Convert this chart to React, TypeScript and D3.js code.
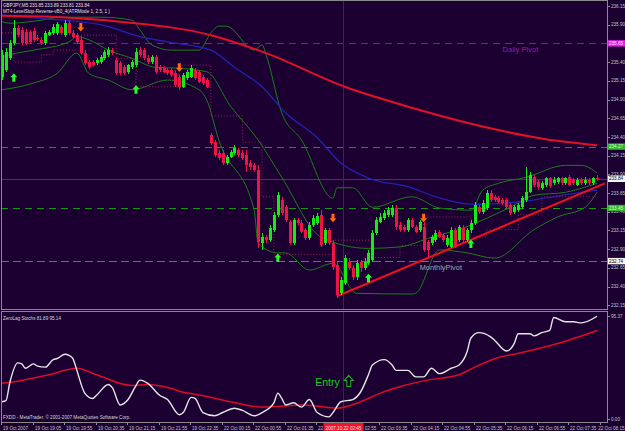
import React from 'react';
import * as d3 from 'd3';

// ---------- DATA ----------
const opens = [
235.20,235.29,235.45,235.66,235.86,235.83,235.80,235.80,235.82,235.72,
235.70,235.66,235.76,235.79,235.79,235.87,235.76,235.92,235.79,235.76,
235.70,235.52,235.40,235.40,235.39,235.40,235.45,235.50,235.56,235.43,
235.39,235.33,235.27,235.33,235.36,235.56,235.56,235.45,235.40,235.47,
235.33,235.32,235.29,235.29,235.25,235.20,235.07,235.19,235.20,235.29,
235.27,235.20,235.16,234.43,234.33,234.18,234.18,234.05,234.13,234.18,
234.22,234.18,234.16,234.05,234.02,233.96,232.98,233.06,233.02,233.16,
233.36,233.56,233.46,233.26,232.98,233.29,233.25,233.16,233.05,233.22,
233.25,233.36,232.98,233.16,232.98,232.69,232.31,232.45,232.73,232.65,
232.53,232.73,232.65,232.71,232.75,233.12,233.26,233.32,233.36,233.36,
233.45,233.22,233.20,233.16,233.29,233.20,233.16,233.20,232.99,232.98,
233.02,233.13,233.09,232.95,232.93,233.16,233.02,233.18,233.02,233.16,
233.25,233.46,233.40,233.45,233.65,233.60,233.58,233.56,233.56,233.49,
233.40,233.42,233.46,233.56,233.66,233.86,233.80,233.72,233.76,233.85,
233.78,233.80,233.85,233.78,233.86,233.82,233.76,233.82,233.78,233.82,
233.78,233.85];
const highs = [
235.56,235.59,235.70,235.96,235.90,235.87,235.84,235.83,235.86,235.76,
235.74,235.82,235.83,235.91,235.94,235.90,235.96,235.96,235.83,235.79,
235.75,235.56,235.43,235.43,235.45,235.50,235.56,235.60,235.59,235.45,
235.41,235.36,235.37,235.43,235.59,235.60,235.59,235.50,235.50,235.50,
235.36,235.35,235.32,235.32,235.29,235.23,235.25,235.29,235.36,235.32,
235.29,235.23,235.19,234.45,234.36,234.22,234.22,234.16,234.22,234.29,
234.25,234.22,234.22,234.09,234.05,234.02,233.12,233.09,233.22,233.40,
233.66,233.60,233.49,233.29,233.32,233.32,233.29,233.18,233.26,233.36,
233.38,233.42,233.18,233.18,233.02,232.73,232.53,232.82,232.78,232.69,
232.75,232.75,232.78,232.89,233.16,233.33,233.38,233.42,233.46,233.49,
233.49,233.26,233.22,233.32,233.32,233.22,233.29,233.26,233.02,233.09,
233.16,233.16,233.12,233.09,233.20,233.18,233.22,233.22,233.18,233.29,
233.53,233.49,233.56,233.69,233.69,233.62,233.61,233.58,233.58,233.52,
233.49,233.52,233.61,234.00,233.93,233.89,233.82,233.81,233.87,233.87,
233.86,233.87,233.87,233.87,233.89,233.85,233.85,233.85,233.86,233.85,
233.87,233.89];
const lows = [
235.16,235.27,235.43,235.63,235.74,235.63,235.63,235.64,235.67,235.68,
235.63,235.63,235.75,235.76,235.76,235.76,235.74,235.76,235.72,235.64,
235.50,235.36,235.31,235.33,235.36,235.37,235.43,235.47,235.50,235.23,
235.23,235.23,235.24,235.31,235.33,235.47,235.43,235.37,235.37,235.24,
235.27,235.25,235.23,235.20,235.07,235.03,235.05,235.16,235.19,235.16,
235.12,235.09,235.05,234.29,234.13,234.09,234.02,234.02,234.12,234.16,
234.13,234.09,233.93,233.96,233.93,232.91,232.89,232.98,232.99,233.13,
233.33,233.36,233.26,232.95,232.95,233.22,233.12,233.02,233.02,233.20,
233.22,232.93,232.95,232.95,232.62,232.25,232.29,232.42,232.62,232.49,
232.49,232.59,232.62,232.69,232.73,233.09,233.25,233.29,233.33,233.33,
233.16,233.13,233.13,233.13,233.18,233.12,233.13,232.86,232.79,232.95,
232.99,233.05,232.99,232.93,232.91,232.91,232.99,232.99,232.99,233.12,
233.22,233.37,233.37,233.42,233.53,233.53,233.52,233.49,233.45,233.36,
233.37,233.40,233.44,233.53,233.65,233.73,233.69,233.69,233.73,233.72,
233.76,233.77,233.76,233.76,233.74,233.76,233.74,233.76,233.76,233.76,
233.76,233.81];
const closes = [
235.50,235.54,235.66,235.86,235.76,235.66,235.66,235.67,235.70,235.71,
235.66,235.79,235.80,235.87,235.91,235.79,235.92,235.79,235.74,235.67,
235.52,235.39,235.33,235.36,235.43,235.47,235.54,235.56,235.52,235.25,
235.25,235.25,235.36,235.40,235.54,235.50,235.45,235.40,235.47,235.27,
235.29,235.27,235.25,235.23,235.09,235.07,235.23,235.27,235.32,235.19,
235.13,235.12,235.07,234.32,234.16,234.12,234.05,234.13,234.20,234.25,
234.16,234.12,234.02,234.00,233.96,232.99,233.06,233.02,233.18,233.36,
233.62,233.38,233.29,232.98,233.29,233.25,233.13,233.05,233.22,233.32,
233.34,232.95,233.16,232.98,232.66,232.29,232.49,232.78,232.65,232.53,
232.71,232.65,232.73,232.85,233.12,233.29,233.33,233.38,233.42,233.45,
233.20,233.16,233.16,233.29,233.20,233.13,233.26,232.89,232.89,233.06,
233.12,233.06,233.02,233.05,233.16,232.93,233.20,233.02,233.16,233.25,
233.49,233.40,233.52,233.65,233.56,233.56,233.53,233.52,233.46,233.38,
233.46,233.49,233.58,233.66,233.89,233.76,233.73,233.78,233.85,233.74,
233.82,233.85,233.78,233.85,233.76,233.78,233.82,233.78,233.82,233.78,
233.85,233.84];

const bbUpper: [number, number][] = [[0,235.94],[2,235.92],[10,235.96],[15,236.00],[25,236.00],[33,235.96],[35,235.83],[38,235.63],[43,235.56],[50,235.56],[53,235.79],[55,235.88],[57,235.88],[64,235.56],[66,235.63],[67,235.50],[71,234.72],[76,234.36],[84,233.58],[85,233.72],[89,233.72],[94,233.46],[104,233.60],[111,233.45],[119,233.42],[122,233.69],[126,233.78],[133,233.86],[143,234.02],[147,234.02],[151,233.92]];
const bbMiddle: [number, number][] = [[0,235.47],[2,235.50],[8,235.56],[17,235.67],[19,235.74],[22,235.70],[27,235.56],[33,235.45],[39,235.33],[44,235.32],[52,235.27],[58,234.81],[65,234.36],[71,233.86],[81,233.06],[93,232.91],[101,232.93],[109,233.06],[118,233.20],[122,233.29],[129,233.46],[135,233.62],[143,233.66],[151,233.78]];
const bbLower: [number, number][] = [[0,235.03],[8,235.12],[14,235.25],[19,235.52],[22,235.25],[27,235.16],[33,235.03],[42,235.16],[50,235.03],[52,234.89],[55,234.36],[64,233.42],[65,232.98],[70,232.85],[72,232.85],[78,232.62],[84,232.71],[90,232.31],[104,232.30],[105,232.31],[111,232.89],[118,232.85],[125,232.78],[135,233.16],[141,233.33],[148,233.46],[151,233.66]];
const slowMA: [number, number][] = [[0,236.02],[15,236.00],[30,235.94],[53,235.76],[67,235.52],[87,235.07],[104,234.79],[118,234.59],[138,234.37],[151,234.29]];
const fastMA: [number, number][] = [[0,236.03],[8,235.99],[25,235.90],[35,235.74],[42,235.67],[53,235.56],[59,235.33],[66,235.07],[72,234.72],[80,234.39],[86,234.05],[93,233.85],[104,233.72],[109,233.62],[120,233.50],[131,233.53],[142,233.62],[151,233.69]];
const levelStop: [number, number][] = [[0,235.79],[3,235.40],[10,235.50],[13,235.56],[20,235.76],[29,235.45],[34,235.07],[45,235.36],[53,234.68],[61,234.33],[66,233.60],[69,232.83],[84,233.02],[94,232.79],[101,232.95],[107,233.33],[119,233.06],[123,233.16],[131,233.36],[137,233.60],[151,233.60]];
const buyBars = [3, 34, 70, 93, 119];
const buyPrices = [235.19, 235.03, 232.78, 232.51, 232.97];
const sellBars = [20, 45, 84, 107];
const sellPrices = [235.87, 235.33, 233.32, 233.32];
const trendLine: [number, number][] = [[85, 232.27], [153, 233.78]];

const levelValues = [235.65, 234.27, 233.84, 233.45, 232.74];
const levelNames = ['Daily Pivot', '', '', '', 'MonthlyPivot'];
const priceTicks = [236.15,235.90,235.40,235.15,234.90,234.65,234.40,234.15,233.90,233.65,233.40,233.15,232.90,232.65,232.40,232.15];

const stochMain: [number, number][] = [[0,16],[1,17],[2,34],[4,52],[5,51],[6,47],[8,51],[9,49],[11,48],[13,55],[14,56],[16,60],[17,59],[18,56],[19,45],[21,24],[23,19],[24,22],[27,32],[28,29],[30,13],[32,18],[34,31],[35,36],[37,33],[40,22],[42,18],[45,4],[46,6],[48,20],[49,19],[51,6],[54,3],[56,6],[59,10],[61,8],[64,3],[66,6],[69,15],[70,24],[71,19],[72,13],[74,15],[76,11],[78,18],[80,6],[83,2],[84,6],[86,16],[89,18],[91,25],[93,41],[94,50],[97,55],[99,50],[100,45],[103,45],[105,39],[107,39],[109,47],[111,42],[114,47],[116,50],[118,62],[119,75],[121,80],[124,76],[125,73],[128,63],[130,70],[131,79],[134,79],[135,77],[137,80],[139,82],[140,94],[143,90],[145,90],[147,89],[151,95.14]];
const stochSignal: [number, number][] = [[0,33],[4,35],[12,41],[19,47],[24,41],[33,31],[37,32],[41,30],[47,24],[49,23],[58,16],[66,11],[77,13],[85,10],[91,16],[96,24],[102,31],[108,36],[116,41],[120,48],[126,57],[130,60],[137,66],[143,72],[151,81.89]];
const stochTicks = [95.37, 0];

const timeLabels = ['19 Oct 2007','19 Oct 19:05','19 Oct 19:55','19 Oct 20:35','19 Oct 21:15','19 Oct 21:55','19 Oct 22:35','22 Oct 00:15','22 Oct 00:55','22 Oct 01:35','22 Oct 02:15','22 Oct 02:55','22 Oct 03:35','22 Oct 04:15','22 Oct 04:55','22 Oct 05:35','22 Oct 06:15','22 Oct 06:55','22 Oct 07:35','22 Oct 08:15'];
const cursorBar = 86.5;
const cursorLabel = '2007.10.22 02:45';

// ---------- STYLE ----------
const BG = '#1b0031';
const FONT = 'Liberation Sans, Arial, sans-serif';
const AXIS_TXT = '#c4c4c4';
const BORDER = '#8a8a8a';
const levelStyle = [
  { stroke: '#8a1a80', dash: '7,5', box: '#e81ee8', txt: '#ffe0ff', label: '#9a1f8e' },
  { stroke: '#119a11', dash: '7,5', box: '#2fb52f', txt: '#dcffdc', label: '' },
  { stroke: '#2e4a32', dash: '', box: '#f4f4f4', txt: '#000000', label: '' },
  { stroke: '#119a11', dash: '7,5', box: '#2fb52f', txt: '#dcffdc', label: '' },
  { stroke: '#6f6f6f', dash: '8,4', box: '#f4f4f4', txt: '#000000', label: '#a6a6a6' },
];

export default function App() {
  const x = d3.scaleLinear().domain([0, 151]).range([2, 597]);
  const y = d3.scaleLinear().domain([232.10, 236.23]).range([309, 0]);
  const ys = d3.scaleLinear().domain([0, 95.37]).range([419, 316]);

  const priceLine = d3.line<[number, number]>().x(d => x(d[0])).y(d => y(d[1])).curve(d3.curveMonotoneX);
  const straight = d3.line<[number, number]>().x(d => x(d[0])).y(d => y(d[1]));
  const stepLine = d3.line<[number, number]>().x(d => x(d[0])).y(d => y(d[1])).curve(d3.curveStepAfter);
  const subLine = d3.line<[number, number]>().x(d => x(d[0])).y(d => ys(d[1])).curve(d3.curveMonotoneX);

  const upArrow = (cx: number, cy: number) =>
    `M${cx},${cy - 4.5} L${cx + 3.5},${cy - 0.5} L${cx + 1.5},${cy - 0.5} L${cx + 1.5},${cy + 4} L${cx - 1.5},${cy + 4} L${cx - 1.5},${cy - 0.5} L${cx - 3.5},${cy - 0.5} Z`;
  const downArrow = (cx: number, cy: number) =>
    `M${cx},${cy + 4.5} L${cx + 3.5},${cy + 0.5} L${cx + 1.5},${cy + 0.5} L${cx + 1.5},${cy - 4} L${cx - 1.5},${cy - 4} L${cx - 1.5},${cy + 0.5} L${cx - 3.5},${cy + 0.5} Z`;

  const cursorX = Math.round(x(cursorBar)) + 0.5;
  const boxL = cursorX - 20;
  const boxR = cursorX + 20;
  const small = 4.6;

  return (
    <svg width={625} height={431} style={{ position: 'fixed', left: 0, top: 0, background: BG }} fontFamily={FONT}>
      <defs>
        <clipPath id="mainClip"><rect x={1} y={1} width={606} height={308} /></clipPath>
        <clipPath id="subClip"><rect x={1} y={312} width={606} height={110} /></clipPath>
        <clipPath id="leftOfBox"><rect x={0} y={420} width={boxL} height={11} /></clipPath>
        <clipPath id="rightOfBox"><rect x={boxR} y={420} width={625 - boxR} height={11} /></clipPath>
      </defs>
      <rect x={0} y={0} width={625} height={431} fill={BG} />

      {/* main panel */}
      <g clipPath="url(#mainClip)">
        {levelValues.map((v, i) => (
          <line key={'lv' + i} x1={1} x2={607} y1={Math.round(y(v)) + 0.5} y2={Math.round(y(v)) + 0.5}
            stroke={levelStyle[i].stroke} strokeWidth={1} strokeDasharray={levelStyle[i].dash || undefined} />
        ))}
        <line x1={cursorX} x2={cursorX} y1={0} y2={309} stroke="#6b1526" strokeWidth={1} />
        {[bbUpper, bbMiddle, bbLower].map((s, i) => (
          <path key={'bb' + i} d={priceLine(s) || ''} fill="none" stroke="#1b7d1b" strokeWidth={1} />
        ))}
        <path d={priceLine(fastMA) || ''} fill="none" stroke="#2222b4" strokeWidth={1.3} />
        <path d={priceLine(slowMA) || ''} fill="none" stroke="#e3102a" strokeWidth={2} />
        <path d={stepLine(levelStop) || ''} fill="none" stroke="#a0205e" strokeWidth={1} strokeDasharray="1,2" />
        <path d={straight(trendLine) || ''} fill="none" stroke="#f01020" strokeWidth={2} />
        {closes.map((c, i) => {
          const o = opens[i];
          const cx = Math.round(x(i));
          const up = c >= o;
          const col = up ? '#14ec14' : '#ee1446';
          const top = Math.round(y(Math.max(o, c)));
          const bot = Math.round(y(Math.min(o, c)));
          return (
            <g key={'c' + i} shapeRendering="crispEdges">
              <line x1={cx + 0.5} x2={cx + 0.5} y1={y(highs[i])} y2={y(lows[i])} stroke={col} strokeWidth={1} />
              <rect x={cx - 1} y={top} width={3} height={Math.max(1, bot - top)} fill={col} />
            </g>
          );
        })}
        {buyBars.map((b, i) => (
          <path key={'b' + i} d={upArrow(x(b), y(buyPrices[i]))} fill="#22ff22" />
        ))}
        {sellBars.map((b, i) => (
          <path key={'s' + i} d={downArrow(x(b), y(sellPrices[i]))} fill="#ff6a12" />
        ))}
        <text x={x(127)} y={y(levelValues[0]) + 8.5} fontSize={7.6} fill={levelStyle[0].label}>{levelNames[0]}</text>
        <text x={x(106)} y={y(levelValues[4]) + 9} fontSize={7.4} fill={levelStyle[4].label}>{levelNames[4]}</text>
      </g>
      <text x={3} y={7} fontSize={small} fill="#e0e0e0">GBPJPY,M5  233.85 233.89 233.81 233.84</text>
      <text x={3} y={13} fontSize={small} fill="#e0e0e0">MT4-LevelStop-Reverse-vB0_4(ATRMode 1, 2.5, 1 )</text>

      {/* sub panel */}
      <g clipPath="url(#subClip)">
        <line x1={cursorX} x2={cursorX} y1={311} y2={422} stroke="#6b1526" strokeWidth={1} />
        <path d={subLine(stochSignal) || ''} fill="none" stroke="#dc0a2a" strokeWidth={1.5} />
        <path d={subLine(stochMain) || ''} fill="none" stroke="#e6e6e6" strokeWidth={1.4} />
      </g>
      <text x={3} y={320} fontSize={small} fill="#d8d8d8">ZeroLag Stochs 81.89 95.14</text>
      <text x={3} y={419} fontSize={small} fill="#d8d8d8">FXDD - MetaTrader, © 2001-2007 MetaQuotes Software Corp.</text>
      <text x={x(79.5)} y={ys(31)} fontSize={10.5} fill="#18d018">Entry</text>
      <path d={upArrow(x(88), ys(35))} transform={`translate(${x(88)},${ys(35)}) scale(1.3) translate(${-x(88)},${-ys(35)})`}
        fill="none" stroke="#1fae1f" strokeWidth={0.8} />

      {/* borders */}
      <g shapeRendering="crispEdges" fill="none" stroke={BORDER}>
        <rect x={1.5} y={0.5} width={606} height={309} />
        <rect x={1.5} y={311.5} width={606} height={111} />
      </g>

      {/* price axis */}
      {priceTicks.map((p, i) => (
        <g key={'pt' + i}>
          <line x1={607} x2={610} y1={Math.round(y(p)) + 0.5} y2={Math.round(y(p)) + 0.5} stroke={BORDER} />
          <text x={611} y={y(p)} dy="0.35em" fontSize={small} fill={AXIS_TXT}>{p.toFixed(2)}</text>
        </g>
      ))}
      {levelValues.map((v, i) => (
        <g key={'lb' + i}>
          <rect x={608} y={y(v) - 3.2} width={17} height={6.4} fill={levelStyle[i].box} />
          <text x={609} y={y(v)} dy="0.35em" fontSize={small} fill={levelStyle[i].txt}>{v.toFixed(2)}</text>
        </g>
      ))}
      {stochTicks.map((v, i) => (
        <g key={'st' + i}>
          <line x1={607} x2={610} y1={Math.round(ys(v)) + 0.5} y2={Math.round(ys(v)) + 0.5} stroke={BORDER} />
          <text x={611} y={ys(v)} dy="0.35em" fontSize={small} fill={AXIS_TXT}>{v.toFixed(2)}</text>
        </g>
      ))}

      {/* time axis */}
      {timeLabels.map((t, k) => {
        const tx = Math.round(x(k * 8)) - 0.5;
        const isLast = k === timeLabels.length - 1;
        const underBoxLeft = tx < boxL && tx + 30 > boxL;
        const underBoxRight = tx > boxL && tx < boxR;
        const clip = underBoxLeft ? 'url(#leftOfBox)' : underBoxRight ? 'url(#rightOfBox)' : undefined;
        return (
          <g key={'tl' + k}>
            <line x1={tx} x2={tx} y1={422} y2={425} stroke={BORDER} />
            <text x={isLast ? 624.5 : tx + 1.5} y={429.5} fontSize={small} fill={AXIS_TXT}
              textAnchor={isLast ? 'end' : 'start'} clipPath={clip}>{t}</text>
          </g>
        );
      })}
      <rect x={boxL} y={423} width={40} height={8} fill="#ee1430" />
      <text x={cursorX} y={429.5} fontSize={small} fill="#ffe6e6" textAnchor="middle">{cursorLabel}</text>
    </svg>
  );
}
